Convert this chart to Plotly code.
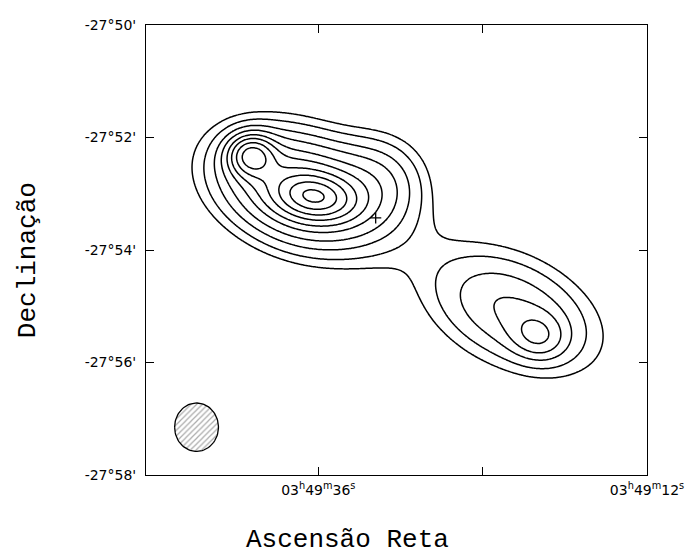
import numpy as np
import plotly.graph_objects as go

# ---------------- data ----------------
# brightness components: RA seconds of 03h49m, Dec in arcmin of -27deg (shown as -50 .. -58)
comp_ra    = [40.92, 36.22, 37.30, 31.30, 29.13, 21.90, 19.95]
comp_dec   = [-52.311, -53.058, -52.93, -52.75, -53.787, -55.07, -55.53]
comp_amp   = [5.0, 4.5, 6.5, 1.9, 0.0, 3.1, 1.9]
comp_smaj  = [15.0, 24.0, 57.0, 35.0, 30.0, 64.0, 18.0]   # arcsec
comp_smin  = [15.0, 15.0, 39.0, 32.0, 15.0, 40.0, 16.0]   # arcsec
comp_pa    = [0.0, 10.0, 25.0, 85.0, 65.0, 30.0, 30.0]    # deg on the map (clockwise from +x)

contour_levels = [1, 1.5, 2.2, 3, 4, 5, 6.2, 7.5, 9, 10.5]

beam_ra, beam_dec = 44.89, -57.15
beam_rx_s, beam_ry_arcmin = 1.60, 0.43

optical_ra, optical_dec = 31.81, -53.43

ra_range = [48.58, 12.0]
dec_range = [-58.0, -50.0]
ra_tickvals = [36, 24, 12]
ra_ticktext = ["03<sup>h</sup>49<sup>m</sup>36<sup>s</sup>", "", "03<sup>h</sup>49<sup>m</sup>12<sup>s</sup>"]
dec_tickvals = [-50, -52, -54, -56, -58]
dec_ticktext = ["-27°50'", "-27°52'", "-27°54'", "-27°56'", "-27°58'"]

# ---------------- brightness model on a grid ----------------
ra = np.linspace(ra_range[0], ra_range[1], 340)
dec = np.linspace(dec_range[0], dec_range[1], 300)
RA, DEC = np.meshgrid(ra, dec)
cosd = np.cos(np.deg2rad(27.9))
Z = np.zeros_like(RA)
for r0, d0, a, sj, sn, pa in zip(comp_ra, comp_dec, comp_amp, comp_smaj, comp_smin, comp_pa):
    u = (r0 - RA) * 15 * cosd          # arcsec, to the right
    v = (d0 - DEC) * 60                # arcsec, downward
    t = np.deg2rad(pa)
    al = u * np.cos(t) + v * np.sin(t)
    pe = -u * np.sin(t) + v * np.cos(t)
    Z += a * np.exp(-0.5 * ((al / sj) ** 2 + (pe / sn) ** 2))

fig = go.Figure()
for lev in contour_levels:
    fig.add_trace(go.Contour(
        x=ra, y=dec, z=Z,
        contours=dict(start=lev, end=lev, size=1, coloring="none"),
        line=dict(color="black", width=1.5, smoothing=1.0),
        showscale=False, hoverinfo="skip",
    ))

# beam
th = np.linspace(0, 2 * np.pi, 80)
fig.add_trace(go.Scatter(
    x=beam_ra + beam_rx_s * np.cos(th), y=beam_dec + beam_ry_arcmin * np.sin(th),
    mode="lines", fill="toself", line=dict(color="black", width=1.3),
    fillcolor="rgba(255,255,255,0)",
    fillpattern=dict(shape="/", fgcolor="#555", size=4, solidity=0.3),
    showlegend=False, hoverinfo="skip",
))
fig.add_trace(go.Scatter(
    x=[optical_ra], y=[optical_dec], mode="markers",
    marker=dict(symbol="cross-thin", size=8, line=dict(color="black", width=1.3)),
    showlegend=False, hoverinfo="skip",
))

axis_common = dict(showgrid=False, zeroline=False, showline=True, linecolor="black",
                   linewidth=1, mirror="allticks", ticks="inside", ticklen=8,
                   tickcolor="black", tickfont=dict(family="DejaVu Sans", size=14, color="black"))
fig.update_xaxes(range=ra_range, tickvals=ra_tickvals, ticktext=ra_ticktext,
                 ticklabelstandoff=2, **axis_common)
fig.update_yaxes(range=dec_range, tickvals=dec_tickvals, ticktext=dec_ticktext,
                 ticklabelstandoff=6, **axis_common)

fig.add_annotation(text="Ascensão Reta", xref="paper", yref="paper", x=0.403, y=-0.145,
                   xanchor="center", yanchor="middle", showarrow=False,
                   font=dict(family="Liberation Mono", size=26, color="black"))
fig.add_annotation(text="Declinação", xref="paper", yref="paper", x=-0.235, y=0.478,
                   textangle=-90, xanchor="center", yanchor="middle", showarrow=False,
                   font=dict(family="Liberation Mono", size=26, color="black"))

fig.update_layout(width=696, height=557, margin=dict(l=146, r=44, t=25, b=82),
                  plot_bgcolor="white", paper_bgcolor="white", showlegend=False)
fig.write_html("out.html")
